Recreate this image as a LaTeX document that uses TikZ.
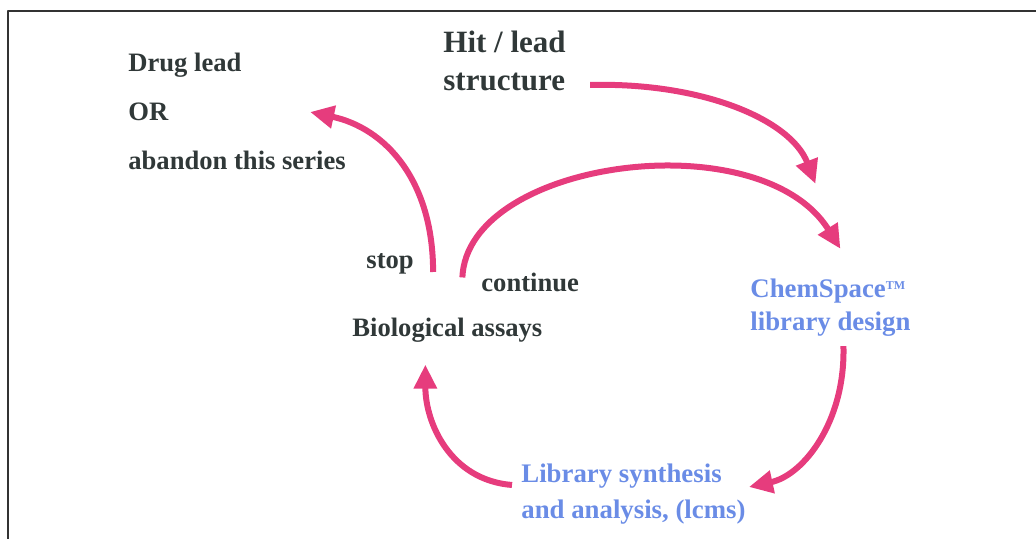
\documentclass[tikz,border=0pt]{standalone}
\usepackage{fontspec}
\setmainfont{Liberation Serif}
\usetikzlibrary{arrows.meta}
\definecolor{inkgrey}{HTML}{303838}
\definecolor{assayblue}{HTML}{6A8CE6}
\definecolor{cyclepink}{HTML}{E63C7D}
\begin{document}
\begin{tikzpicture}[x=0.5pt,y=0.5pt,line join=round,
  flow/.style={cyclepink,line width=3pt,-{Triangle[length=12pt,width=11pt]}},
  lbl/.style={inner sep=0pt,anchor=west,align=left,text=inkgrey,font=\bfseries\fontsize{13.3}{16}\selectfont},
  blu/.style={lbl,text=assayblue}]
\useasboundingbox (0,0) rectangle (1036,-539);
\draw[line width=0.8pt,black!80] (1036,-11)--(8,-11)--(8,-539);

\node[lbl,font=\bfseries\fontsize{15.5}{19}\selectfont] (hit) at (443,-61) {Hit / lead\\structure};
\node[lbl,font=\bfseries\fontsize{13.3}{24.5}\selectfont] (lead) at (128,-111) {Drug lead\\OR\\abandon this series};
\node[lbl] (stop) at (366,-264) {stop};
\node[lbl] (cont) at (481,-282) {continue};
\node[lbl] (assays) at (352,-330) {Biological assays};
\node[blu,font=\bfseries\fontsize{13.4}{16.5}\selectfont] (design) at (750,-308) {ChemSpace\raisebox{4pt}{\fontsize{6}{6}\selectfont TM}\\library design};
\node[blu,font=\bfseries\fontsize{13.4}{18}\selectfont] (synth) at (521,-494) {Library synthesis\\and analysis, (lcms)};

% the design--synthesis--assay cycle
\draw[flow] ([shift={(24,-24)}]hit.east) .. controls +(110,3) and +(-25,65) .. ([shift={(-15,95)}]design.north);
\draw[flow] ([shift={(15,40)}]assays.north) .. controls +(5,118) and +(-80,128) .. ([shift={(10,30)}]design.north);
\draw[flow] ([shift={(19,-8)}]stop.east) .. controls +(0,92) and +(75,-16) .. ([shift={(-36,-1)}]lead.east);
\draw[flow] ([shift={(13,-9)}]design.south) .. controls +(2,-75) and +(55,12) .. ([shift={(3,7)}]synth.east);
\draw[flow] ([shift={(-9,9)}]synth.west) .. controls +(-62,5) and +(0,-58) .. ([shift={(-22,-22)}]assays.south);
\end{tikzpicture}
\end{document}
